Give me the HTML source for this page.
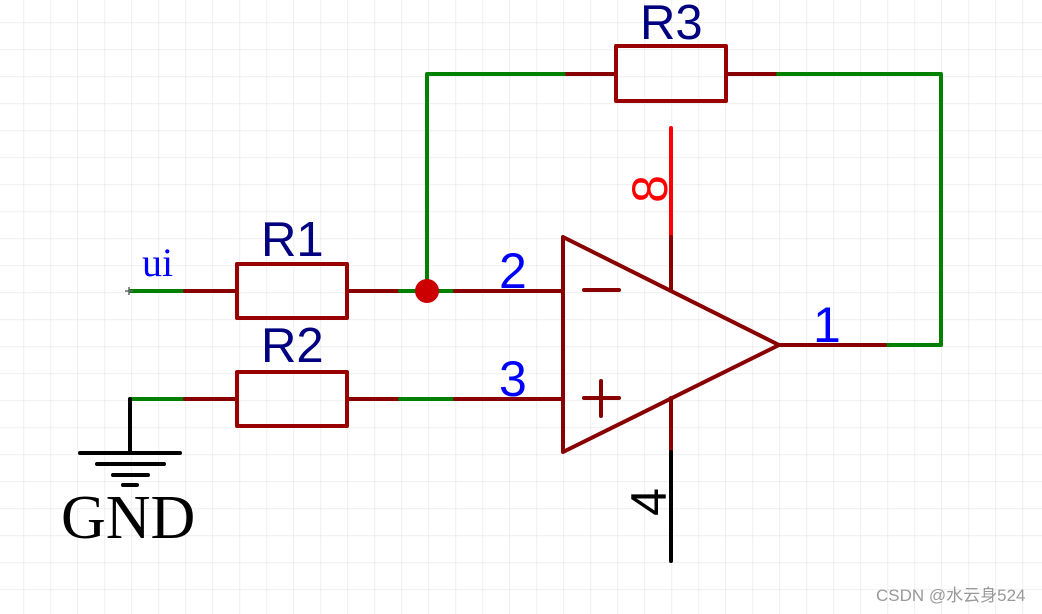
<!DOCTYPE html>
<html><head><meta charset="utf-8"><style>
html,body{margin:0;padding:0;background:#fff;}
svg{display:block;}
</style></head><body>
<svg width="1042" height="614" viewBox="0 0 1042 614" xmlns="http://www.w3.org/2000/svg">
<defs>
<pattern id="g" x="23.5" y="22.5" width="27" height="27" patternUnits="userSpaceOnUse">
<path d="M0 0H27M0 0V27" stroke="#e4e4e4" stroke-width="1.2" fill="none"/>
</pattern>
</defs>
<rect width="1042" height="614" fill="#fff"/>
<rect width="1042" height="614" fill="url(#g)"/>
<g stroke-width="4" fill="none" stroke-linecap="round" stroke-linejoin="round">
<path d="M130 291H185" stroke="#008000"/>
<path d="M185 291H237M347 291H400" stroke="#880000"/>
<path d="M400 291H455" stroke="#008000"/>
<path d="M455 291H563" stroke="#880000"/>
<rect x="237" y="264" width="110" height="54" stroke="#990000"/>
<path d="M130 399H185" stroke="#008000"/>
<path d="M185 399H237M347 399H400" stroke="#880000"/>
<path d="M400 399H455" stroke="#008000"/>
<path d="M455 399H563" stroke="#880000"/>
<rect x="237" y="372" width="110" height="54" stroke="#990000"/>
<path d="M130 399V453M80 453H180M97 464H164M113 475H148M123 485H137" stroke="#000"/>
<path d="M427 291V74H567" stroke="#008000"/>
<path d="M567 74H616M726 74H778" stroke="#880000"/>
<rect x="616" y="46" width="110" height="55" stroke="#990000"/>
<path d="M778 74H941V345H885" stroke="#008000"/>
<path d="M779 345H885" stroke="#880000"/>
<path d="M563 237V452L779 345Z" stroke="#880000"/>
<path d="M584 290H619M584 398H619M601 381V416" stroke="#880000"/>
<path d="M671 128V237" stroke="#ff0000"/>
<path d="M671 237V290M671 398V452" stroke="#880000"/>
<path d="M671 452V561" stroke="#000"/>
</g>
<circle cx="427" cy="291" r="12" fill="#cc0000"/>
<path d="M125 291H133M129 287V295" stroke="#666" stroke-width="1.5"/>
<g font-family="Liberation Sans, sans-serif" font-size="49">
<text x="261" y="256" fill="#000080">R1</text>
<text x="261" y="362" fill="#000080">R2</text>
<text x="640" y="39" fill="#000080">R3</text>
</g>
<g font-family="Liberation Sans, sans-serif" font-size="50">
<text x="499" y="288" fill="#0000ff">2</text>
<text x="499" y="396" fill="#0000ff">3</text>
<text x="813" y="342" fill="#0000ff">1</text>
<text transform="translate(667,189) rotate(-90)" text-anchor="middle" fill="#ff0000">8</text>
<text transform="translate(666,502) rotate(-90)" text-anchor="middle" fill="#000">4</text>
</g>
<text x="142" y="276" font-family="Liberation Serif, serif" font-size="40" fill="#0000ff">ui</text>
<text x="61" y="538" font-family="Liberation Serif, serif" font-size="62" fill="#000">GND</text>
<text x="876" y="601" font-family="Liberation Sans, 'Noto Sans CJK SC', sans-serif" font-size="17" fill="#999">CSDN @水云身524</text>
</svg>
</body></html>
